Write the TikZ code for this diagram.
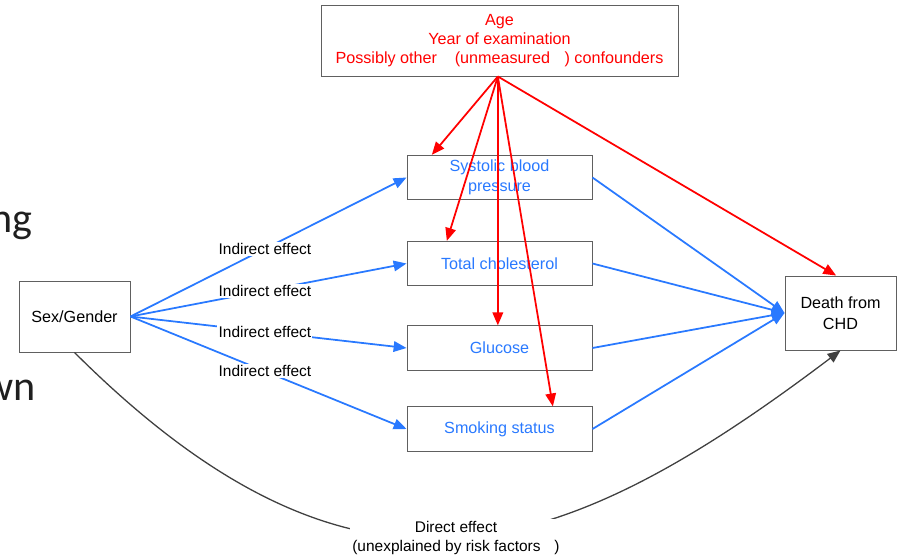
\documentclass[tikz,border=0pt]{standalone}
\usepackage{fontspec}
\setsansfont{Liberation Sans}
\newfontfamily\slidefont{Carlito}
\usetikzlibrary{arrows.meta,positioning}

\definecolor{effblue}{RGB}{41,121,255}
\definecolor{confred}{RGB}{255,0,0}
\definecolor{boxgray}{RGB}{96,96,96}
\definecolor{curvegray}{RGB}{64,64,64}

\tikzset{
  box/.style = {draw = boxgray, line width = 0.8pt, shape = rectangle, align = center, inner sep = 0pt, font = \sffamily\fontsize{13.8}{17}\selectfont},
  factor/.style = {box, text = effblue, minimum width = 5.55cm, minimum height = 1.33cm},
  effect/.style = {fill = white, inner sep = 1pt, font = \sffamily\fontsize{13.2}{15.5}\selectfont},
  bluearrow/.style = {draw = effblue, line width = 1.5pt, -{Triangle[length = 11pt, width = 9pt]}},
  redarrow/.style = {draw = confred, line width = 1.5pt, -{Triangle[length = 11pt, width = 9pt]}},
  slidetext/.style = {inner sep = 0pt, anchor = base east, text = black!88, font = \slidefont\fontsize{36}{40}\selectfont}
}

\begin{document}
\begin{tikzpicture}[x = 0.03cm, y = -0.03cm]
\useasboundingbox (0,0) rectangle (897,556);

% cut-off text of the slide behind
\node[slidetext] (ng) at (33,232) {ng};
\node[slidetext] (wn) at (36,400) {wn};

\node[box, text = confred, minimum width = 10.71cm, minimum height = 2.13cm, font = \sffamily\fontsize{13.8}{16.5}\selectfont] (1) at (499.5,40.5)
  {Age\\Year of examination\\Possibly other\hspace{1.1em}(unmeasured\hspace{0.9em}) confounders};
\node[factor] (2) at (499.5,177.5) {Systolic blood\\pressure};
\node[factor] (3) at (499.5,263.5) {Total cholesterol};
\node[factor] (4) at (499.5,348) {Glucose};
\node[factor] (5) at (499.5,429) {Smoking status};
\node[box, minimum width = 3.33cm, minimum height = 2.13cm] (6) at (74.5,316.5) {Sex/Gender};
\node[box, minimum width = 3.33cm, minimum height = 2.22cm, font = \sffamily\fontsize{13.8}{17.5}\selectfont] (7) at (840.5,313) {Death from\\CHD};

% indirect paths
\foreach \n in {2,3,4,5}
  \draw[bluearrow] (6.east) -- (\n.west) node[effect, pos = 0.487] {Indirect effect};
\foreach \n in {2,3,4,5}
  \draw[bluearrow] (\n.east) -- (7.west);

% confounders
\coordinate (src) at ([xshift = -0.05cm]1.south);
\draw[redarrow] (src) -- ([xshift = -2.03cm]2.north);
\draw[redarrow] (src) -- ([xshift = -1.58cm]3.north);
\draw[redarrow] (src) -- ([xshift = -0.05cm]4.north);
\draw[redarrow] (src) -- ([xshift = 1.6cm]5.north);
\draw[redarrow] (src) -- ([xshift = -0.13cm]7.north);

% direct path
\draw[curvegray, line width = 1.1pt, -{Triangle[length = 11pt, width = 9pt]}] (6.south) .. controls (357,634) and (558,564) .. (7.south);
\node[effect, fill = white, align = center, inner sep = 2pt] (8) at (456,538) {Direct effect\\(unexplained by risk factors\hspace{0.9em})};
\end{tikzpicture}
\end{document}
